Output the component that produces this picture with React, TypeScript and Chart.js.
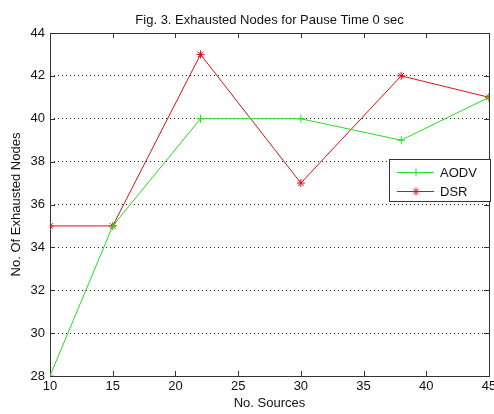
import React, { useEffect, useRef } from "react";
import { Chart, registerables } from "chart.js";

Chart.register(...registerables);

const titleText = "Fig. 3. Exhausted Nodes for Pause Time 0 sec";
const xTitle = "No. Sources";
const yTitle = "No. Of Exhausted Nodes";
const sources = [10, 15, 22, 30, 38, 45];
const aodv = [28, 35, 40, 40, 39, 41];
const dsr = [35, 35, 43, 37, 42, 41];
const xTicks = [10, 15, 20, 25, 30, 35, 40, 45];
const yTicks = [28, 30, 32, 34, 36, 38, 40, 42, 44];
const seriesNames = ["AODV", "DSR"];

const FONT = "'Liberation Sans', Arial, Helvetica, sans-serif";
const GREEN = "#22dd22";
const RED = "#dd1111";
const AXIS = "#333333";

function drawMarker(ctx: CanvasRenderingContext2D, style: string, x: number, y: number, r: number) {
  ctx.beginPath();
  ctx.moveTo(x - r, y);
  ctx.lineTo(x + r, y);
  ctx.moveTo(x, y - r);
  ctx.lineTo(x, y + r);
  if (style === "star") {
    const d = r * Math.SQRT1_2;
    ctx.moveTo(x - d, y - d);
    ctx.lineTo(x + d, y + d);
    ctx.moveTo(x - d, y + d);
    ctx.lineTo(x + d, y - d);
  }
  ctx.stroke();
}

const framePlugin = {
  id: "frame",
  beforeDraw(chart: any) {
    const { ctx } = chart;
    ctx.save();
    ctx.fillStyle = "#ffffff";
    ctx.fillRect(0, 0, chart.width, chart.height);
    ctx.restore();
  },
  beforeDatasetsDraw(chart: any) {
    const { ctx, chartArea: a, scales } = chart;
    ctx.save();
    ctx.strokeStyle = AXIS;
    ctx.lineWidth = 1;
    ctx.strokeRect(Math.round(a.left) + 0.5, Math.round(a.top) + 0.5, Math.round(a.right - a.left), Math.round(a.bottom - a.top));
    const L = 5;
    ctx.beginPath();
    xTicks.forEach((v) => {
      const px = Math.round(scales.x.getPixelForValue(v)) + 0.5;
      ctx.moveTo(px, a.bottom);
      ctx.lineTo(px, a.bottom - L);
      ctx.moveTo(px, a.top);
      ctx.lineTo(px, a.top + L);
    });
    yTicks.forEach((v) => {
      const py = Math.round(scales.y.getPixelForValue(v)) + 0.5;
      ctx.moveTo(a.left, py);
      ctx.lineTo(a.left + L, py);
      ctx.moveTo(a.right, py);
      ctx.lineTo(a.right - L, py);
    });
    ctx.stroke();
    ctx.fillStyle = "#111111";
    ctx.font = `13px ${FONT}`;
    ctx.textAlign = "center";
    ctx.textBaseline = "alphabetic";
    ctx.fillText(titleText, (a.left + a.right) / 2, 24);
    ctx.restore();
  },
  afterDatasetsDraw(chart: any) {
    const { ctx, chartArea: a } = chart;
    const w = 101;
    const h = 42;
    const x0 = Math.round(a.right) - w + 1;
    const y0 = 159;
    ctx.save();
    ctx.fillStyle = "#ffffff";
    ctx.fillRect(x0, y0, w, h);
    ctx.strokeStyle = AXIS;
    ctx.lineWidth = 1;
    ctx.strokeRect(x0 + 0.5, y0 + 0.5, w, h);
    const colors = [GREEN, RED];
    const styles = ["cross", "star"];
    ctx.font = `13px ${FONT}`;
    ctx.textAlign = "left";
    ctx.textBaseline = "middle";
    seriesNames.forEach((name, i) => {
      const cy = y0 + 13 + i * 19 + 0.5;
      ctx.strokeStyle = colors[i];
      ctx.lineWidth = 1;
      ctx.beginPath();
      ctx.moveTo(x0 + 8, cy);
      ctx.lineTo(x0 + 45, cy);
      ctx.stroke();
      drawMarker(ctx, styles[i], x0 + 27, cy, 4);
      ctx.fillStyle = "#111111";
      ctx.fillText(name, x0 + 51, cy + 1);
    });
    ctx.restore();
  },
};

export default function App() {
  const ref = useRef<HTMLCanvasElement | null>(null);

  useEffect(() => {
    if (!ref.current) return;
    const chart = new Chart(ref.current, {
      type: "line",
      data: {
        datasets: [
          {
            label: seriesNames[0],
            data: sources.map((x, i) => ({ x, y: aodv[i] })),
            borderColor: GREEN,
            backgroundColor: GREEN,
            borderWidth: 1,
            pointStyle: "cross",
            pointRadius: 4,
            pointBorderWidth: 1,
            pointBorderColor: GREEN,
            tension: 0,
          },
          {
            label: seriesNames[1],
            data: sources.map((x, i) => ({ x, y: dsr[i] })),
            borderColor: RED,
            backgroundColor: RED,
            borderWidth: 1,
            pointStyle: "star",
            pointRadius: 4,
            pointBorderWidth: 1,
            pointBorderColor: RED,
            tension: 0,
          },
        ],
      },
      options: {
        animation: false,
        responsive: true,
        maintainAspectRatio: false,
        layout: { padding: { top: 33, right: 5, left: 0, bottom: 0 } },
        plugins: {
          legend: { display: false },
          title: { display: false },
          tooltip: { enabled: false },
        },
        scales: {
          x: {
            type: "linear",
            min: 10,
            max: 45,
            afterBuildTicks: (s: any) => {
              s.ticks = xTicks.map((v) => ({ value: v }));
            },
            afterFit: (s: any) => {
              s.height = 38;
              s.paddingLeft = 0;
              s.paddingRight = 0;
            },
            grid: { display: false, drawTicks: false },
            border: { display: false },
            ticks: {
              padding: 3,
              maxRotation: 0,
              autoSkip: false,
              color: "#111111",
              font: { family: FONT, size: 13 },
            },
            title: {
              display: true,
              text: xTitle,
              color: "#111111",
              font: { family: FONT, size: 13 },
              padding: { top: 3, bottom: 3 },
            },
          },
          y: {
            type: "linear",
            min: 28,
            max: 44,
            afterBuildTicks: (s: any) => {
              s.ticks = yTicks.map((v) => ({ value: v }));
            },
            afterFit: (s: any) => {
              s.width = 50;
              s.paddingTop = 0;
              s.paddingBottom = 0;
            },
            grid: {
              drawTicks: false,
              color: (c: any) => (c.tick && (c.tick.value === 28 || c.tick.value === 44) ? "rgba(0,0,0,0)" : "#222222"),
              lineWidth: 1,
            },
            border: { display: false, dash: [1, 3] },
            ticks: {
              padding: 5,
              autoSkip: false,
              color: "#111111",
              font: { family: FONT, size: 13 },
            },
            title: {
              display: true,
              text: yTitle,
              color: "#111111",
              font: { family: FONT, size: 13 },
              padding: { top: 9, bottom: 9 },
            },
          },
        },
      },
      plugins: [framePlugin],
    });
    return () => chart.destroy();
  }, []);

  return (
    <div style={{ position: "absolute", left: 0, top: 0, width: 494, height: 414 }}>
      <canvas ref={ref} />
    </div>
  );
}
